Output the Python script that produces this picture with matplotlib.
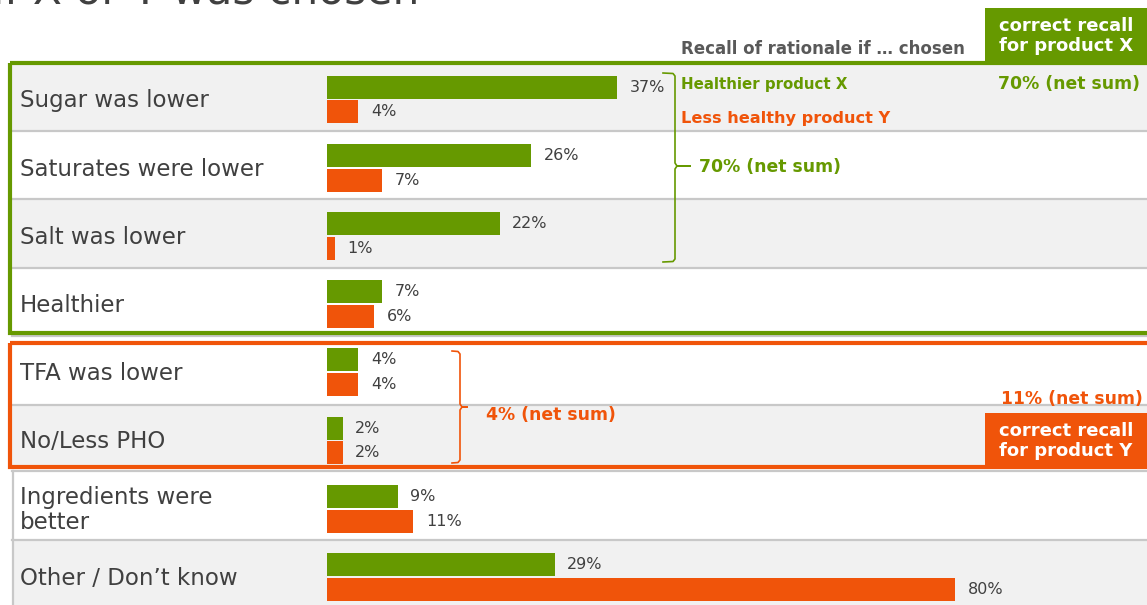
import matplotlib
matplotlib.use("Agg")
import matplotlib.pyplot as plt
from matplotlib.patches import Rectangle

# ---- data -------------------------------------------------------------
categories = [
    "Sugar was lower",
    "Saturates were lower",
    "Salt was lower",
    "Healthier",
    "TFA was lower",
    "No/Less PHO",
    "Ingredients were\nbetter",
    "Other / Don\u2019t know",
]
healthier_x = [37, 26, 22, 7, 4, 2, 9, 29]       # recall if healthier product X chosen
less_healthy_y = [4, 7, 1, 6, 4, 2, 11, 80]      # recall if less healthy product Y chosen
value_labels_x = [f"{v}%" for v in healthier_x]
value_labels_y = [f"{v}%" for v in less_healthy_y]

GREEN = "#669900"
ORANGE = "#f0540a"
TEXT = "#404040"
GRID = "#c8c8c8"
BAND = "#f1f1f1"

W, H = 1147, 605
fig = plt.figure(figsize=(W / 100, H / 100), dpi=100)

# layout layer in pixel units (backgrounds, frames, annotations)
lay = fig.add_axes([0, 0, 1, 1], zorder=0)
lay.set_xlim(0, W)
lay.set_ylim(H, 0)
lay.axis("off")

# bar layer: x in percent, y in row units
ax = fig.add_axes([0, 0, 1, 1], zorder=1)
ax.patch.set_alpha(0)
x0_px, px_per_pct = 327, 7.85
ax.set_xlim(-x0_px / px_per_pct, (W - x0_px) / px_per_pct)
row0_px, row_px = 99.5, 68.2
ax.set_ylim((H - row0_px) / row_px, -row0_px / row_px)
ax.axis("off")

# row bands
row_tops = [64, 131, 199, 268, 343, 405, 470, 540]
row_bots = [131, 199, 268, 334, 405, 467, 540, 605]
shaded = [True, False, True, False, False, True, False, True]
for t, b, s in zip(row_tops, row_bots, shaded):
    lay.add_patch(Rectangle((12, t), W, b - t, facecolor=BAND if s else "white",
                            edgecolor="none", zorder=0))
for y in [131, 199, 268, 336, 405, 471, 540]:
    lay.plot([12, W], [y, y], color=GRID, lw=1.6, zorder=1)
lay.plot([13, 13], [471, H], color=GRID, lw=1.6, zorder=1)

# bars
bh = 23 / row_px
off = 12.4 / row_px
ys = list(range(len(categories)))
ax.barh([y - off for y in ys], healthier_x, height=bh, color=GREEN, left=0)
ax.barh([y + off for y in ys], less_healthy_y, height=bh, color=ORANGE, left=0)
lab_off = 12.5 / px_per_pct
for y, v, s in zip(ys, healthier_x, value_labels_x):
    ax.text(v + lab_off, y - off, s, va="center", ha="left", fontsize=11.5, color=TEXT)
for y, v, s in zip(ys, less_healthy_y, value_labels_y):
    ax.text(v + lab_off, y + off, s, va="center", ha="left", fontsize=11.5, color=TEXT)

# category labels
for y, c in zip(ys, categories):
    ax.text(-307 / px_per_pct, y + 0.02, c, va="center", ha="left", fontsize=16.5,
            color=TEXT, linespacing=1.15)

# group frames
lay.add_patch(Rectangle((10, 63), W + 20, 270, facecolor="none", edgecolor=GREEN,
                        lw=3, zorder=4))
lay.add_patch(Rectangle((10, 343), W + 20, 124, facecolor="none", edgecolor=ORANGE,
                        lw=3, zorder=4))

# tabs
lay.add_patch(Rectangle((985, 8), 170, 55, facecolor=GREEN, edgecolor="none", zorder=5))
lay.text(1066, 36, "correct recall\nfor product X", ha="center", va="center",
         color="white", fontsize=13, fontweight="bold", linespacing=1.08, zorder=6)
lay.add_patch(Rectangle((985, 413), 170, 54, facecolor=ORANGE, edgecolor="none", zorder=5))
lay.text(1066, 441, "correct recall\nfor product Y", ha="center", va="center",
         color="white", fontsize=13, fontweight="bold", linespacing=1.08, zorder=6)

# title (partly above the canvas)
lay.text(-8, 3.5, "If X or Y was chosen", ha="left", va="baseline", fontsize=30.5,
         color=TEXT)

# headers and notes
lay.text(681, 49, "Recall of rationale if \u2026 chosen", ha="left", va="center",
         fontsize=12, fontweight="bold", color="#595959")
lay.text(681, 84, "Healthier product X", ha="left", va="center", fontsize=10.8,
         fontweight="bold", color=GREEN)
lay.text(681, 118, "Less healthy product Y", ha="left", va="center", fontsize=11.6,
         fontweight="bold", color=ORANGE)
lay.text(1140, 84, "70% (net sum)", ha="right", va="center", fontsize=12.4,
         fontweight="bold", color=GREEN)
lay.text(699, 167, "70% (net sum)", ha="left", va="center", fontsize=12.4,
         fontweight="bold", color=GREEN)
lay.text(486, 415, "4% (net sum)", ha="left", va="center", fontsize=12.4,
         fontweight="bold", color=ORANGE)
lay.text(1143, 399, "11% (net sum)", ha="right", va="center", fontsize=12.4,
         fontweight="bold", color=ORANGE, zorder=6)


def brace(x_in, x_mid, top, mid, bot, tip, color):
    xs = [x_in, x_mid - 2, x_mid, x_mid, x_mid + 2, tip, x_mid + 2, x_mid, x_mid,
          x_mid - 2, x_in]
    ys_ = [top, top + 0.5, top + 3, mid - 3, mid, mid, mid, mid + 3, bot - 3,
           bot - 0.5, bot]
    lay.plot(xs, ys_, color=color, lw=1.2, zorder=6, solid_joinstyle="round")


brace(663, 675, 73, 166, 262, 690, GREEN)
brace(452, 460, 351, 407, 463, 467, ORANGE)

fig.savefig("out.png", dpi=100)
